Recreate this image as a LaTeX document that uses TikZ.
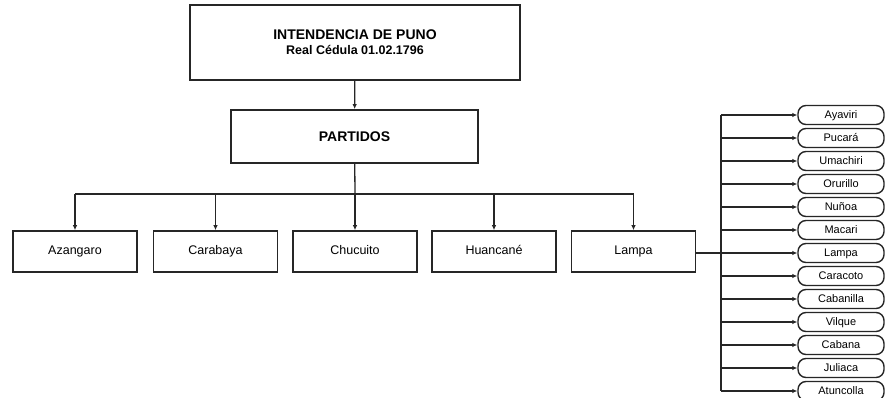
\documentclass[tikz,border=0pt]{standalone}
\usepackage{fontspec}
\setmainfont{Liberation Sans}
\usetikzlibrary{arrows.meta}
\begin{document}
\begin{tikzpicture}[x=1pt,y=-1pt,
  bigbox/.style={draw=black!85,line width=1.8pt,inner sep=0pt,align=center},
  dbox/.style={draw=black!85,line width=1.6pt,minimum width=124pt,minimum height=41pt,inner sep=0pt,text height=9pt,text depth=3pt,font=\fontsize{12.5}{14}\selectfont},
  sbox/.style={draw=black!85,line width=1.4pt,rounded corners=8pt,minimum width=86pt,minimum height=19pt,inner sep=0pt,text height=9pt,text depth=2pt,font=\fontsize{11}{12}\selectfont},
  conn/.style={draw=black!85,line width=1.3pt},
  arr/.style={conn,-{Latex[length=5pt,width=4.5pt]}}]
\useasboundingbox[fill=white] (0,0) rectangle (885,398);
\node[bigbox,minimum width=330pt,minimum height=75pt] (top) at (355,42.5)
  {\fontsize{14}{17}\selectfont\bfseries INTENDENCIA DE PUNO\\[3pt]\fontsize{12.5}{15}\selectfont\bfseries Real Cédula 01.02.1796};
\node[bigbox,minimum width=247pt,minimum height=53pt,font=\fontsize{14}{17}\selectfont\bfseries] (part) at (354.5,136.5) {PARTIDOS};
\node[dbox] (az) at (75,251.5) {Azangaro};
\node[dbox] (ca) at (215.5,251.5) {Carabaya};
\node[dbox] (ch) at (355,251.5) {Chucuito};
\node[dbox] (hu) at (494,251.5) {Huancané};
\node[dbox] (la) at (633.5,251.5) {Lampa};
\node[sbox] (s1) at (841,115) {Ayaviri};
\node[sbox] (s2) at (841,138) {Pucará};
\node[sbox] (s3) at (841,161) {Umachiri};
\node[sbox] (s4) at (841,184) {Orurillo};
\node[sbox] (s5) at (841,207) {Nuñoa};
\node[sbox] (s6) at (841,230) {Macari};
\node[sbox] (s7) at (841,253) {Lampa};
\node[sbox] (s8) at (841,276) {Caracoto};
\node[sbox] (s9) at (841,299) {Cabanilla};
\node[sbox] (s10) at (841,322) {Vilque};
\node[sbox] (s11) at (841,345) {Cabana};
\node[sbox] (s12) at (841,368) {Juliaca};
\node[sbox] (s13) at (841,391) {Atuncolla};
\coordinate (bus) at (355,194);
\coordinate (rb) at (721,253);
\draw[arr] (top) -- (part);
\draw[conn] (part) -- (bus);
\draw[conn] (bus -| az) -- (bus -| la);
\foreach \b in {az,ca,ch,hu,la} \draw[arr] (bus -| \b) -- (\b);
\draw[conn] (la.east |- rb) -- (rb);
\draw[conn] (rb |- s1) -- (rb |- s13);
\foreach \i in {1,...,13} \draw[arr] (rb |- s\i) -- (s\i);
\end{tikzpicture}
\end{document}
